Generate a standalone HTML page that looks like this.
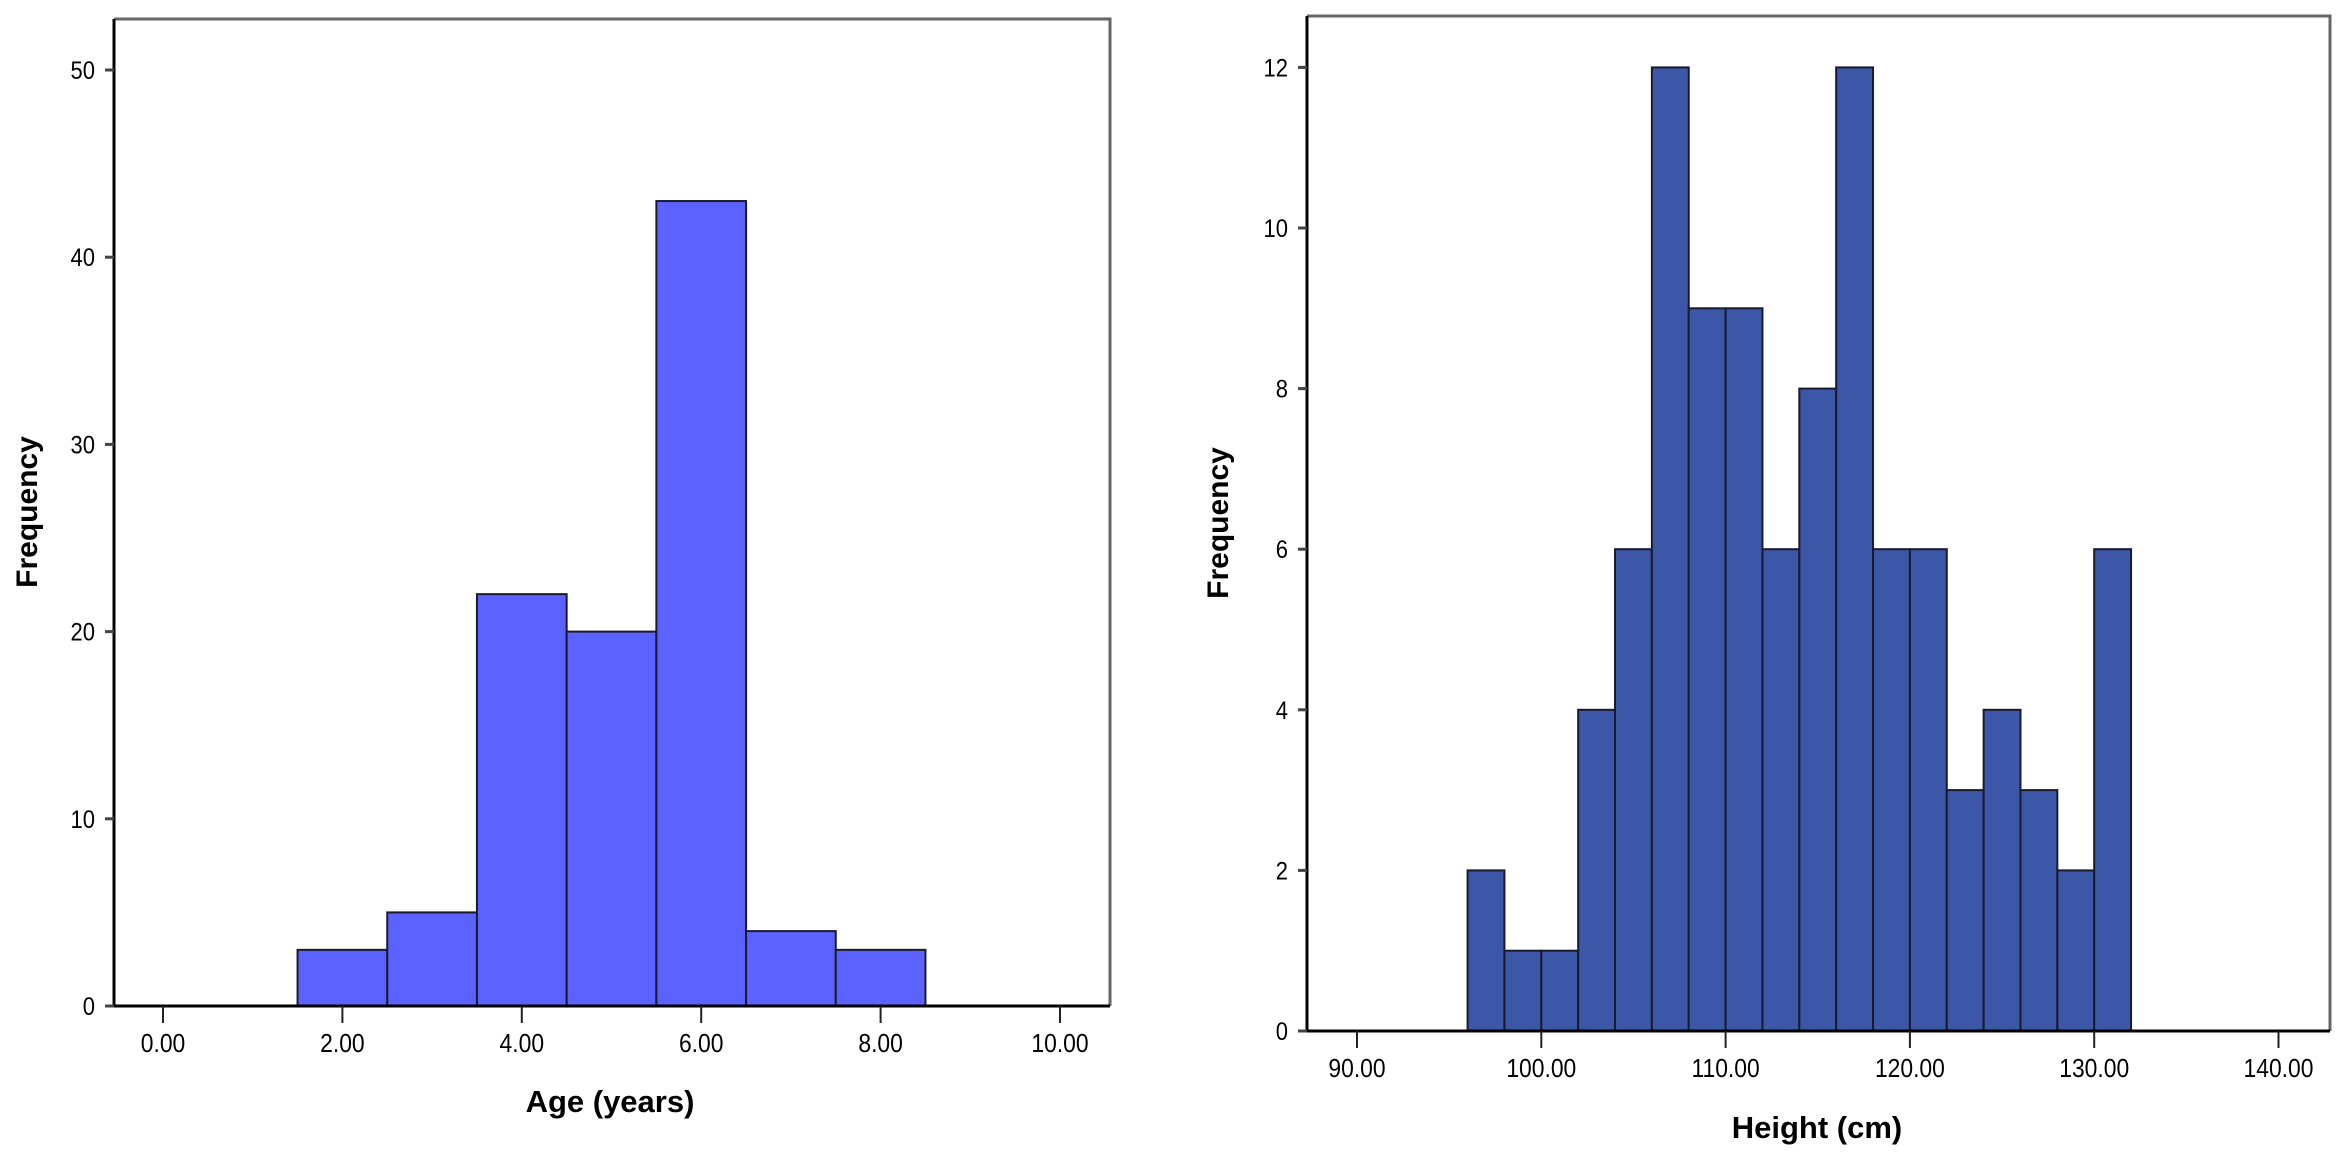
<!DOCTYPE html>
<html><head><meta charset="utf-8"><style>
html,body{margin:0;padding:0;background:#fff;}
svg{display:block;font-family:"Liberation Sans",Arial,sans-serif;}
</style></head><body>
<svg id="chart" width="2344" height="1161" viewBox="0 0 2344 1161" xmlns="http://www.w3.org/2000/svg"></svg>
<script>
// Left chart data (Age)
const ageBinStarts = [1.5, 2.5, 3.5, 4.5, 5.5, 6.5, 7.5];
const ageCounts = [3, 5, 22, 20, 43, 4, 3];
const ageXTicks = [0, 2, 4, 6, 8, 10];
const ageXTickLabels = ["0.00", "2.00", "4.00", "6.00", "8.00", "10.00"];
const ageYTicks = [0, 10, 20, 30, 40, 50];
// Right chart data (Height)
const heightBinStarts = [96, 98, 100, 102, 104, 106, 108, 110, 112, 114, 116, 118, 120, 122, 124, 126, 128, 130];
const heightCounts = [2, 1, 1, 4, 6, 12, 9, 9, 6, 8, 12, 6, 6, 3, 4, 3, 2, 6];
const heightXTicks = [90, 100, 110, 120, 130, 140];
const heightXTickLabels = ["90.00", "100.00", "110.00", "120.00", "130.00", "140.00"];
const heightYTicks = [0, 2, 4, 6, 8, 10, 12];

const NS = "http://www.w3.org/2000/svg";
const svg = document.getElementById("chart");
function mk(tag, attrs, parent) {
  const e = document.createElementNS(NS, tag);
  for (const k in attrs) e.setAttribute(k, attrs[k]);
  (parent || svg).appendChild(e);
  return e;
}

function drawChart(cfg) {
  const g = mk("g", {});
  
  
  const xs = v => cfg.x0px + (v - cfg.x0val) * cfg.xScale;
  const ys = v => cfg.base - v * cfg.yScale;
  // frame top and right
  const frame = mk("path", {d: `M${cfg.left} ${cfg.top} H${cfg.right} V${cfg.base}`, fill: "none", stroke: "#666", "stroke-width": 3}, g);
  
  
  // bars
  cfg.starts.forEach((s, i) => {
    const x1 = xs(s), x2 = xs(s + cfg.binW), y = ys(cfg.counts[i]);
    const r = mk("rect", {x: x1, y: y, width: x2 - x1, height: cfg.base - y, fill: cfg.color, stroke: "#1a1a2e", "stroke-width": 2}, g);
    
    
  });
  // axes
  const ax = mk("path", {d: `M${cfg.left} ${cfg.top} V${cfg.base} H${cfg.right}`, fill: "none", stroke: "#000", "stroke-width": 3}, g);
  
  
  // y ticks
  cfg.yTicks.forEach(v => {
    const y = ys(v);
    mk("line", {x1: cfg.left - 9, x2: cfg.left, y1: y, y2: y, stroke: "#444", "stroke-width": 3}, g);
    const t = mk("text", {transform: `translate(${cfg.left - 19},${y + 9}) scale(0.88,1)`, "text-anchor": "end", "font-size": 25, fill: "#000"}, g);
    t.textContent = String(v);
    
    
  });
  // x ticks
  cfg.xTicks.forEach((v, i) => {
    const x = xs(v);
    mk("line", {x1: x, x2: x, y1: cfg.base, y2: cfg.base + 17, stroke: "#222", "stroke-width": 2}, g);
    const t = mk("text", {transform: `translate(${x},${cfg.base + 46}) scale(0.88,1)`, "text-anchor": "middle", "font-size": 26, fill: "#000"}, g);
    t.textContent = cfg.xLabels[i];
    
    
  });
  const xt = mk("text", {x: cfg.xTitleX, y: cfg.xTitleY, "text-anchor": "middle", "font-size": 31, "font-weight": "bold", fill: "#000"}, g);
  xt.textContent = cfg.xTitle;
  
  
  const yt = mk("text", {transform: `translate(${cfg.yTitleX},${cfg.yTitleY}) rotate(-90)`, "text-anchor": "middle", "font-size": 30, "font-weight": "bold", fill: "#000"}, g);
  yt.textContent = "Frequency";
  
  
}

drawChart({name: "age-histogram", left: 114, right: 1110, top: 19, base: 1006,
  x0px: 163, x0val: 0, xScale: 89.7, yScale: 18.72, binW: 1,
  starts: ageBinStarts, counts: ageCounts, color: "#5c62ff",
  xTicks: ageXTicks, xLabels: ageXTickLabels, yTicks: ageYTicks,
  xTitle: "Age (years)", xTitleX: 610, xTitleY: 1112, yTitleX: 37, yTitleY: 512});

drawChart({name: "height-histogram", left: 1307, right: 2330, top: 16, base: 1031,
  x0px: 1357, x0val: 90, xScale: 18.43, yScale: 80.3, binW: 2,
  starts: heightBinStarts, counts: heightCounts, color: "#3c56a8",
  xTicks: heightXTicks, xLabels: heightXTickLabels, yTicks: heightYTicks,
  xTitle: "Height (cm)", xTitleX: 1817, xTitleY: 1138, yTitleX: 1228, yTitleY: 523});
</script>
</body></html>
